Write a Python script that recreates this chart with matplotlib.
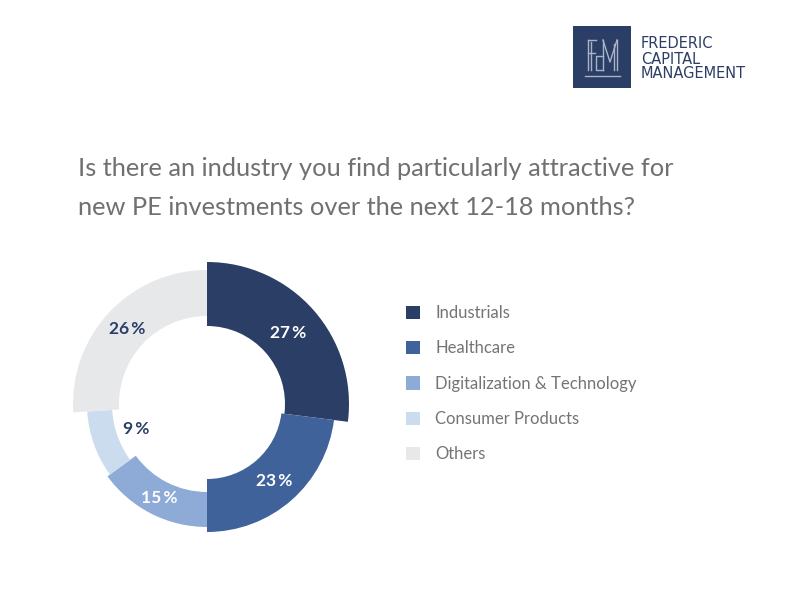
import matplotlib.pyplot as plt
from matplotlib.patches import Rectangle
from matplotlib.lines import Line2D
import numpy as np

# data
categories = ['Industrials', 'Healthcare', 'Digitalization & Technology', 'Consumer Products', 'Others']
shares = [27, 23, 15, 9, 26]
colors = ['#2b3e66', '#3e6299', '#8eaad6', '#cadcee', '#e7e8ea']
label_colors = ['white', 'white', 'white', '#2b3e66', '#2b3e66']

# ring geometry per slice, in pixels (inner, outer) and label radius
inner_r = [78, 75, 88, 95, 88]
outer_r = [142, 128, 123, 120, 134]
label_r = [108, 102, 105, 75, 109]

W, H = 800, 596
fig = plt.figure(figsize=(W / 100, H / 100), dpi=100)
fig.patch.set_facecolor('white')

# full-figure axes in pixel units (y up)
ax = fig.add_axes([0, 0, 1, 1])
cx, cy = 207, H - 404
wedges, _ = ax.pie(shares, colors=colors, startangle=90, counterclock=False,
                   center=(cx, cy), radius=100, frame=True)
ax.set_xlim(0, W)
ax.set_ylim(0, H)
ax.set_aspect('equal')
ax.axis('off')

for w, ri, ro, rl, val, lc in zip(wedges, inner_r, outer_r, label_r, shares, label_colors):
    w.set_radius(ro)
    w.set_width(ro - ri)
    w.set_edgecolor('none')
    mid = np.deg2rad((w.theta1 + w.theta2) / 2)
    ax.text(cx + rl * np.cos(mid), cy + rl * np.sin(mid), f'{val}\u2009%',
            ha='center', va='center', color=lc, fontsize=12.5, fontweight='bold',
            family='Lato')

# legend
leg = ax.legend(wedges, categories, loc='upper left',
                bbox_to_anchor=(406 / W, 1 - 305 / H), bbox_transform=fig.transFigure,
                frameon=False, handlelength=0.85, handleheight=0.85,
                handletextpad=0.9, labelspacing=1.16, borderpad=0, borderaxespad=0,
                prop={'family': 'Lato', 'size': 12})
for t in leg.get_texts():
    t.set_color('#747474')

# title
fig.text(78 / W, 1 - 157 / H,
         'Is there an industry you find particularly attractive for\n'
         'new PE investments over the next 12-18 months?',
         ha='left', va='top', fontsize=18.3, color='#707070',
         family='Lato', linespacing=1.85)

# logo box
navy = '#2b3e66'
fig.patches.append(Rectangle((573 / W, 1 - 88 / H), 58 / W, 62 / H,
                             transform=fig.transFigure, facecolor=navy,
                             edgecolor='none', figure=fig))
mono = '#aab4c8'


def fl(xs, ys):
    fig.lines.append(Line2D([x / W for x in xs], [1 - y / H for y in ys],
                            transform=fig.transFigure, color=mono, linewidth=1.0, figure=fig))


# F
fl([588, 588], [70, 40])
fl([588, 596], [40, 40])
fl([588, 595], [53, 53])
fl([591, 591], [70, 42])
# C
fl([603, 596, 596, 603], [56, 56, 70, 70])
# M
fl([603, 603], [70, 40])
fl([603, 610, 617], [40, 62, 40])
fl([617, 617], [40, 70])
fl([614, 614], [44, 70])
# underline
fl([585, 620], [76, 76])

for i, line in enumerate(['FREDERIC', 'CAPITAL', 'MANAGEMENT']):
    fig.text(641 / W, 1 - (44 + 15 * i) / H, line, ha='left', va='center',
             fontsize=10.5, color=navy, family='DejaVu Sans')

fig.savefig('out.png', dpi=100, facecolor='white')
